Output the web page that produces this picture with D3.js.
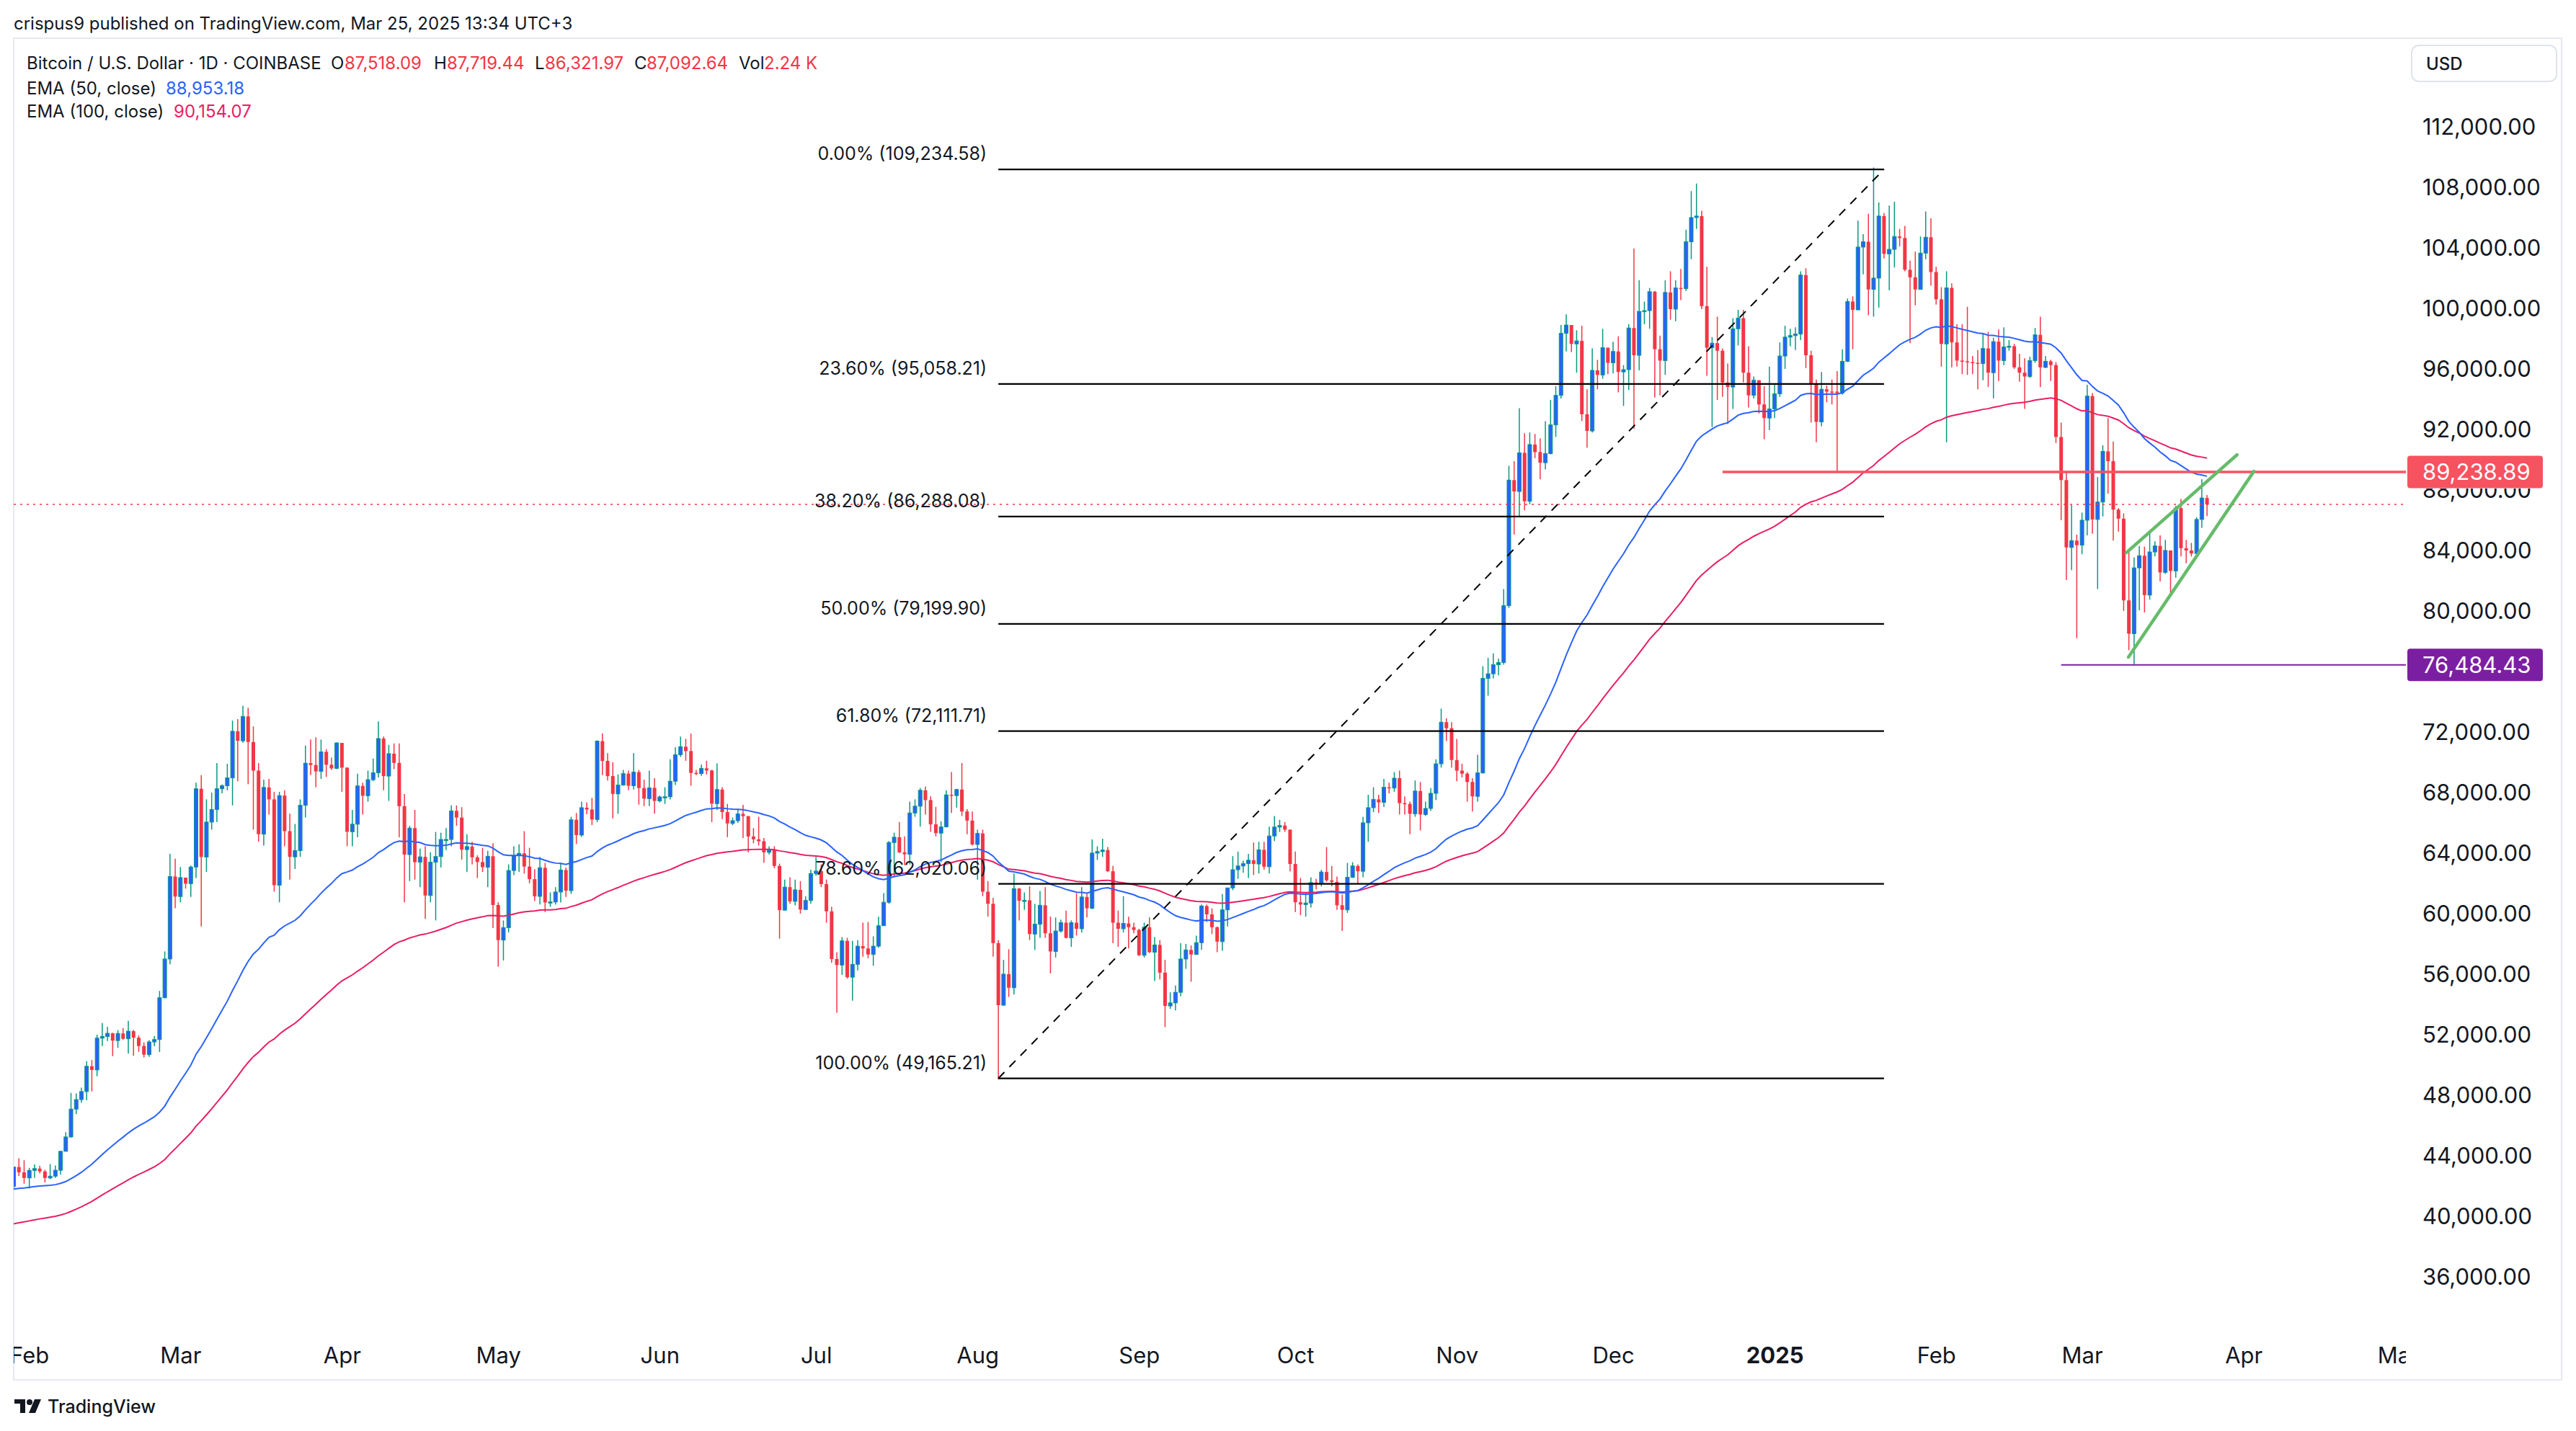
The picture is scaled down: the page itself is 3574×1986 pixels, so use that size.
<!DOCTYPE html>
<html><head><meta charset="utf-8">
<script src="https://cdn.jsdelivr.net/npm/d3@7"></script>
<style>
html,body{margin:0;padding:0;background:#fff;}
svg{display:block;}
text{font-family:Inter,"Noto Sans",Roboto,sans-serif;}
</style></head><body>
<svg id="chart" width="3574" height="1986"></svg>
<script>
// ---------------- DATA ----------------
const startDate = "2024-01-29";   // first daily candle
// [open, high, low, close] per day, BTC/USD Coinbase
const ohlc = [
// Jan 29-31 2024
[42030,43300,41800,43300],[43300,43880,42700,42950],[42950,43750,42200,42580],
// Feb 2024
[42580,43250,41880,43080],[43080,43480,42580,43200],[43200,43380,42880,43010],[43010,43120,42280,42580],
[42580,43500,42500,42700],[42700,43400,42580,43090],[43090,44370,42800,44340],[44340,45600,44330,45290],
[45290,48200,45250,47130],[47130,48170,46800,47760],[47760,48550,47550,48290],[48290,50300,47710,49960],
[49960,50370,48300,49720],[49720,52050,49300,51820],[51820,52820,51300,51930],[51930,52570,51630,52140],
[52140,52180,50630,51660],[51660,52350,51180,52130],[52130,52490,51700,51780],[51780,52970,50800,52280],
[52280,52360,50650,51850],[51850,52000,50920,51300],[51300,51540,50540,50730],[50730,51690,50580,51570],
[51570,51970,51280,51730],[51730,54940,50900,54490],[54490,57550,54450,57050],[57050,64000,56700,62500],
[62500,63680,60400,61180],
// Mar 2024
[61180,63130,60800,62430],[62430,62430,61700,62030],[62030,63230,61150,63130],[63130,68700,62400,68300],
[68300,69200,59200,63790],[63790,67600,62800,66100],[66100,68050,65600,66930],[66930,70000,66100,68300],
[68300,68600,68000,68500],[68500,69950,68200,69020],[69020,72800,67200,72100],[72100,72900,68800,71470],
[71470,73780,71350,73080],[73080,73650,68600,71390],[71390,72420,65600,69500],[69500,70000,64800,65300],
[65300,68900,64550,68390],[68390,68950,66600,67600],[67600,68100,61500,61930],[61930,68100,60800,67850],
[67850,68200,64500,65500],[65500,66650,62300,63800],[63800,65980,63000,64220],[64220,67600,63800,67210],
[67210,71150,66400,69990],[69990,71560,69220,69870],[69870,71700,68400,69450],[69450,71550,68950,70740],
[70740,70920,69080,69890],[69890,70360,69550,69650],[69650,71370,69600,71330],
// Apr 2024
[71330,71340,68100,69700],[69700,69700,64500,65460],[65460,66900,64500,65960],[65960,69300,65100,68490],
[68490,68700,66600,67840],[67840,69500,67450,68900],[68900,70300,68800,69360],[69360,72750,69050,71620],
[71620,71750,68200,69140],[69140,71200,67500,70620],[70620,71300,69600,70010],[70010,71300,65100,67150],
[67150,67950,60800,63950],[63950,65850,62200,65700],[65700,66900,62300,63450],[63450,64350,61800,63800],
[63800,64500,59700,61250],[61250,64100,60800,63450],[63450,65450,59600,63820],[63820,65400,63100,64950],
[64950,65700,64250,64950],[64950,67200,64500,66840],[66840,67200,65850,66400],[66400,67080,63620,64280],
[64280,65300,62800,64480],[64480,64800,63300,63770],[63770,63900,62400,63460],[63460,64400,62800,63120],
[63120,64200,61800,63840],[63840,64700,59100,60620],
// May 2024
[60620,60800,56550,58300],[58300,59600,56950,59120],[59120,63300,58800,62900],[62900,64500,62600,63890],
[63890,64630,62800,64030],[64030,65500,62700,63160],[63160,64400,62050,62330],[62330,62990,60880,61190],
[61190,63800,60650,63080],[63080,63400,60150,60790],[60790,61450,60500,60820],[60820,61800,60650,61480],
[61480,63400,60780,62930],[62930,63100,61150,61570],[61570,66450,61350,66250],[66250,66700,64650,65240],
[65240,67450,65120,67050],[67050,67400,66620,66930],[66930,67700,65900,66270],[66270,71500,66100,71450],
[71450,71950,69200,70140],[70140,70650,68850,69140],[69140,70050,66350,67960],[67960,69250,66650,68550],
[68550,69550,68500,69300],[69300,69500,68200,68500],[68500,70650,68250,69400],[69400,69550,67250,68350],
[68350,68900,67150,67650],[67650,69500,67150,68360],[68360,69000,66650,67500],
// Jun 2024
[67500,67850,67400,67760],[67760,68400,67300,67770],[67770,70250,67600,68800],[68800,71050,68550,70550],
[70550,71750,70400,71080],[71080,71600,70150,70790],[70790,71950,68500,69350],[69350,69550,69200,69310],
[69310,69900,69150,69650],[69650,70150,69250,69510],[69510,69560,66100,67320],[67320,69980,66900,68250],
[68250,68400,66300,66760],[66760,67300,65100,66010],[66010,66400,65900,66190],[66190,66980,66050,66640],
[66640,67240,65050,66490],[66490,66500,64100,65150],[65150,65700,64700,64960],[64960,66450,64550,64830],
[64830,65050,63400,64100],[64100,64500,63950,64250],[64250,64500,63050,63200],[63200,63350,58400,60280],
[60280,62300,60250,61800],[61800,62450,60700,60860],[60860,62300,60600,61620],[61620,62200,60050,60320],
[60320,61200,60300,60920],[60920,62950,60700,62700],
// Jul 2024
[62700,63800,62550,62860],[62860,63300,61800,62000],[62000,62300,59450,60200],[60200,60500,56800,57050],
[57050,57500,53500,56650],[56650,58500,56000,58250],[58250,58450,55750,55850],[55850,58250,54300,56700],
[56700,58300,56300,57900],[57900,59450,57200,57750],[57750,59500,57100,57350],[57350,58550,56600,57900],
[57900,59850,57800,59250],[59250,61400,59250,60800],[60800,64850,60700,64750],[64750,65400,62450,65100],
[65100,66100,64050,64100],[64100,65150,63250,63970],[63970,67450,63300,66700],[66700,67600,66450,67150],
[67150,68350,65800,68200],[68200,68450,66600,67550],[67550,67800,65450,65950],[65950,67100,65150,65370],
[65370,66150,63450,65780],[65780,68200,65750,67900],[67900,69400,66700,67850],[67850,68300,67050,68250],
[68250,70000,66500,66800],[66800,66950,65300,66200],[66200,66800,64550,64620],
// Aug 2024
[64620,65600,62300,65350],[65350,65600,61200,61500],[61500,62200,59850,60700],[60700,61100,57200,58100],
[58100,58300,49100,54000],[54000,57000,53950,56050],[56050,57700,54550,55150],[55150,62700,54700,61700],
[61700,61750,59600,60900],[60900,61450,60300,60930],[60930,61850,58300,58700],[58700,60700,57650,59350],
[59350,61550,58450,60600],[60600,61800,58450,58750],[58750,59850,56100,57550],[57550,59800,57150,58900],
[58900,59650,58800,59450],[59450,60250,58400,58450],[58450,59600,57850,59450],[59450,61400,58600,59050],
[59050,61800,58800,61150],[61150,61400,59800,60400],[60400,64950,60350,64050],[64050,64500,63600,64150],
[64150,65000,63800,64250],[64250,64450,62800,62850],[62850,63200,58100,59450],[59450,60250,57850,59050],
[59050,61200,58800,59400],[59400,59850,57750,59150],[59150,59450,58750,58970],
// Sep 2024
[58970,59050,57250,57300],[57300,59450,57150,59150],[59150,59800,57450,57500],[57500,58500,55600,57980],
[57980,58300,55700,56150],[56150,57000,52550,53950],[53950,54850,53750,54150],[54150,55300,53650,54850],
[54850,58100,54600,57050],[57050,58050,56400,57650],[57650,57950,55550,57350],[57350,58600,57350,58130],
[58130,60650,57650,60550],[60550,60650,59500,60000],[60000,60400,58700,59150],[59150,59200,57500,58200],
[58200,61350,57600,60300],[60300,61750,59200,61750],[61750,63850,61600,62950],[62950,64150,62350,63200],
[63200,63550,62750,63350],[63350,64000,62400,63580],[63580,64750,62600,63330],[63330,64800,62700,64270],
[64270,64800,62950,63150],[63150,65800,62700,65180],[65180,66500,64850,65770],[65770,66250,65450,65870],
[65870,66100,65450,65600],[65600,65600,62850,63330],
// Oct 2024
[63330,64150,60150,60800],[60800,62400,59950,60650],[60650,61450,59850,60750],[60750,62450,60450,62100],
[62100,62350,61650,62050],[62050,62950,61850,62800],[62800,64450,62150,62250],[62250,63200,61850,62150],
[62150,62500,60300,60600],[60600,61300,58900,60300],[60300,63400,60100,62450],[62450,63450,62400,63200],
[63200,63300,62050,62850],[62850,66450,62450,66050],[66050,67900,64800,67050],[67050,68400,66750,67600],
[67600,67900,66700,67400],[67400,68950,67100,68400],[68400,68700,68000,68350],[68350,69400,68100,69000],
[69000,69500,66600,67350],[67350,67800,66600,67300],[67300,67450,65300,66650],[66650,68850,66450,68150],
[68150,68750,65550,66600],[66600,67450,66500,67000],[67000,68350,66850,68000],[68000,70250,67550,69950],
[69950,73600,69700,72700],[72700,72950,71450,72300],[72300,72700,69700,70200],
// Nov 2024
[70200,71600,68800,69500],[69500,69950,69050,69300],[69300,69400,67450,68750],[68750,69000,66800,67800],
[67800,70550,67450,69350],[69350,76400,69300,75600],[75600,76950,74450,75900],[75900,77250,75600,76500],
[76500,76900,75800,76650],[76650,81500,76500,80400],[80400,89650,80250,88700],[88700,89950,85100,87950],
[87950,93450,86250,90500],[90500,91800,86700,87300],[87300,91850,87100,91050],[91050,91750,90150,90550],
[90550,91450,88750,89850],[89850,92600,89400,90450],[90450,94000,90400,92350],[92350,94900,91550,94300],
[94300,98950,94100,98400],[98400,99650,97200,98950],[98950,98950,97150,97700],[97700,98600,95800,97900],
[97900,98900,92600,93050],[93050,94700,90850,91950],[91950,97400,91850,95950],[95950,96650,94700,95650],
[95650,98700,95400,97450],[97450,97450,95700,96450],
// Dec 2024
[96450,97850,95750,97200],[97200,98200,94500,95850],[95850,96300,93600,96000],[96000,99000,94650,98750],
[98750,104000,92100,96950],[96950,101900,95950,99850],[99850,100500,99000,99900],[99900,101400,98700,101150],
[101150,101200,94150,97350],[97350,98250,94300,96600],[96600,101900,95650,101100],[101100,102500,99300,100000],
[100000,101900,99200,101400],[101400,102650,100600,101350],[101350,105250,101200,104450],[104450,107800,103300,106050],
[106050,108300,105300,106150],[106150,106500,100000,100200],[100200,102800,95600,97450],[97450,98150,92200,97750],
[97750,99500,94000,97250],[97250,97400,94200,95150],[95150,96400,92400,94850],[94850,99400,93400,98700],
[98700,99950,97600,99400],[99400,99950,95150,95800],[95800,97550,93500,94300],[94300,95550,94100,95300],
[95300,95300,93100,93700],[93700,94900,91400,92800],[92800,96200,92000,93400],
// Jan 2025
[93400,95000,92800,94400],[94400,97800,94200,96900],[96900,98900,96050,98150],[98150,98700,97550,98250],
[98250,98800,97300,98350],[98350,102500,97950,102250],[102250,102700,96100,96950],[96950,97250,92500,95050],
[95050,95350,91200,92550],[92550,95850,92250,94700],[94700,94950,93850,94550],[94550,95350,93700,94500],
[94550,95900,89260,94450],[94450,97350,94350,96550],[96550,100700,96500,100500],[100500,100850,97350,99950],
[99950,105850,99950,104100],[104100,104950,102300,104450],[104450,106300,99600,101300],[101300,109360,99500,102050],
[102050,107050,100100,106150],[106150,106350,103350,103650],[103650,106850,101250,103950],[103950,107100,102750,104800],
[104800,105300,104150,104700],[104700,105500,102500,102600],[102600,103200,97750,102100],[102100,103800,100250,101300],
[101300,104800,101300,103700],[103700,106450,103300,104750],[104750,106000,101550,102450],
// Feb 2025
[102450,102800,100300,100650],[100650,101450,96200,97700],[97700,102500,91200,101400],[101400,101700,96150,97800],
[97800,99000,96200,96600],[96600,99000,95700,96550],[96550,100150,95650,96500],[96500,96900,95700,96450],
[96450,97300,94700,96400],[96400,98350,95300,97400],[97400,98500,94850,95800],[95800,98100,94100,97850],
[97850,98650,95250,96600],[96600,98800,96300,97500],[97500,97950,97250,97550],[97550,97700,96050,96150],
[96150,97050,95200,95800],[95800,96750,93400,95550],[95550,96850,95450,96600],[96600,98750,96450,98300],
[98300,99500,94850,96150],[96150,96900,96100,96550],[96550,96650,95250,96300],[96300,96500,91150,91550],
[91550,92500,86050,88700],[88700,89300,82100,84250],[84250,87050,82750,84700],[84700,85100,78250,84400],
// Mar 2025
[84400,86550,83800,86050],[86050,95000,85050,94250],[94250,94450,85150,86100],[86100,88900,81500,87250],
[87250,91000,86300,90600],[90600,92800,87800,89950],[89950,91250,84700,86750],[86750,86850,85300,86150],
[86150,86500,80050,80750],[80750,84100,77450,78550],[78550,83600,76484.43,82900],[82900,84350,80100,83700],
[83700,84300,79950,81100],[81100,85300,80800,83950],[83950,84650,83650,84350],[84350,85050,82000,82600],
[82600,84750,82500,84050],[84050,84050,81150,82700],[82700,87000,82250,86850],[86850,87450,83650,84200],
[84200,84750,83200,84050],[84050,84550,83650,83850],[83850,86250,83800,86100],[86100,88750,85550,87518.09],
[87518.09,87719.44,86321.97,87092.64]
];
// EMA starting values at the first candle
const ema50Start = 41850;
const ema100Start = 39550;

const priceTicks = [36000,40000,44000,48000,52000,56000,60000,64000,68000,72000,76000,80000,84000,88000,92000,96000,100000,104000,108000,112000];
const monthTicks = ["2024-02-01","2024-03-01","2024-04-01","2024-05-01","2024-06-01","2024-07-01","2024-08-01","2024-09-01","2024-10-01","2024-11-01","2024-12-01","2025-01-01","2025-02-01","2025-03-01","2025-04-01","2025-05-01"];
const monthLabels = ["Feb","Mar","Apr","May","Jun","Jul","Aug","Sep","Oct","Nov","Dec","2025","Feb","Mar","Apr","May"];

const fibLabels = ["0.00%","23.60%","38.20%","50.00%","61.80%","78.60%","100.00%"];
const fibPrices = [109234.58,95058.21,86288.08,79199.90,72111.71,62020.06,49165.21];
const fibStart = "2024-08-05", fibEnd = "2025-01-22";

const trendLine = [["2024-08-05",49165.21],["2025-01-22",109234.58]];
const resistance = {price:89238.89, from:"2024-12-22"};
const support = {price:76484.43, from:"2025-02-25"};
const wedgeUpper = [["2025-03-09T12:00:00Z",83900],["2025-03-30T18:00:00Z",90370]];
const wedgeLower = [["2025-03-09T22:00:00Z",77000],["2025-04-03T00:00:00Z",89280]];
const lastPrice = 87092.64;

const legendOHLC = ["87,518.09","87,719.44","86,321.97","87,092.64"];
const legendVol = "2.24 K";
const legendEma50 = "88,953.18", legendEma100 = "90,154.07";

// ---------------- LAYOUT ----------------
const C = {up:"#089981", upBody:"#2962FF", down:"#F23645", ema50:"#2962FF", ema100:"#E91E63",
  text:"#131722", res:"#F7525F", sup:"#7B1FA2", wedge:"#66BB6A", frame:"#E6E9EF"};
const plot = {left:19, right:3338, top:53, bottom:1845};
const svg = d3.select("#chart");
const pu = d3.utcParse("%Y-%m-%d");
const pd = s => s.length > 10 ? new Date(s) : pu(s);

const x = d3.scaleUtc().domain([pu("2024-03-01"), pu("2025-03-01")]).range([250.3, 2888.6]);
const y = d3.scaleLinear().domain([36000, 112000]).range([1773, 177]);

const t0 = pu(startDate);
const candles = ohlc.map((r,i)=>({date:d3.utcDay.offset(t0,i), o:r[0], h:r[1], l:r[2], c:r[3]}));
// EMA of closes
function ema(period, start){
  const k = 2/(period+1); let e = start;
  return candles.map((d,i)=>{ if(i>0) e = d.c*k + e*(1-k); return {date:d.date, v:e}; });
}
const e50 = ema(50, ema50Start), e100 = ema(100, ema100Start);

const defs = svg.append("defs");
defs.append("clipPath").attr("id","plotClip").append("rect")
  .attr("x",plot.left).attr("y",plot.top).attr("width",plot.right-plot.left).attr("height",plot.bottom-plot.top);
defs.append("clipPath").attr("id","timeClip").append("rect")
  .attr("x",plot.left).attr("y",plot.bottom).attr("width",plot.right-plot.left).attr("height",80);

// frame
svg.append("rect").attr("x",plot.left).attr("y",plot.top).attr("width",3554-plot.left).attr("height",1915-plot.top)
  .attr("fill","none").attr("stroke",C.frame).attr("stroke-width",2);

const P = svg.append("g").attr("clip-path","url(#plotClip)");

// candles
const cg = P.append("g");
cg.selectAll("line").data(candles).join("line")
  .attr("x1",d=>x(d.date)).attr("x2",d=>x(d.date))
  .attr("y1",d=>y(d.h)).attr("y2",d=>y(d.l))
  .attr("stroke",d=>d.c>=d.o?C.up:C.down).attr("stroke-width",1.5);
cg.selectAll("rect").data(candles).join("rect")
  .attr("x",d=>x(d.date)-2.5).attr("width",5)
  .attr("y",d=>y(Math.max(d.o,d.c)))
  .attr("height",d=>Math.max(1.5, Math.abs(y(d.o)-y(d.c))))
  .attr("fill",d=>d.c>=d.o?C.upBody:C.down)
  .attr("stroke",d=>d.c>=d.o?C.up:"none").attr("stroke-width",1);

// EMAs
const line = d3.line().x(d=>x(d.date)).y(d=>y(d.v));
P.append("path").datum(e100).attr("d",line).attr("fill","none").attr("stroke",C.ema100).attr("stroke-width",2);
P.append("path").datum(e50).attr("d",line).attr("fill","none").attr("stroke",C.ema50).attr("stroke-width",2);

// current price dotted line
P.append("line").attr("x1",plot.left).attr("x2",plot.right).attr("y1",y(lastPrice)).attr("y2",y(lastPrice))
  .attr("stroke",C.down).attr("stroke-width",1.5).attr("stroke-dasharray","3,6");

// fib
const fx0 = x(pd(fibStart)), fx1 = x(pd(fibEnd));
const fg = P.append("g");
fg.selectAll("line").data(fibPrices).join("line")
  .attr("x1",fx0).attr("x2",fx1).attr("y1",d=>y(d)).attr("y2",d=>y(d))
  .attr("stroke","#000").attr("stroke-width",2.2);
fg.selectAll("text").data(fibPrices).join("text")
  .attr("x",fx0-16).attr("y",d=>y(d)-22).attr("text-anchor","end").attr("dominant-baseline","central")
  .attr("font-size",25).attr("fill",C.text)
  .text((d,i)=>`${fibLabels[i]} (${d3.format(",.2f")(d)})`);

// dashed trend line
P.append("line")
  .attr("x1",x(pd(trendLine[0][0]))).attr("y1",y(trendLine[0][1]))
  .attr("x2",x(pd(trendLine[1][0]))).attr("y2",y(trendLine[1][1]))
  .attr("stroke","#000").attr("stroke-width",2).attr("stroke-dasharray","12,10");

// resistance / support
P.append("line").attr("x1",x(pd(resistance.from))).attr("x2",plot.right)
  .attr("y1",y(resistance.price)).attr("y2",y(resistance.price)).attr("stroke",C.res).attr("stroke-width",3.5);
P.append("line").attr("x1",x(pd(support.from))).attr("x2",plot.right)
  .attr("y1",y(support.price)).attr("y2",y(support.price)).attr("stroke",C.sup).attr("stroke-width",2);

// wedge
[wedgeUpper, wedgeLower].forEach(w=>{
  P.append("line").attr("x1",x(pd(w[0][0]))).attr("y1",y(w[0][1])).attr("x2",x(pd(w[1][0]))).attr("y2",y(w[1][1]))
    .attr("stroke",C.wedge).attr("stroke-width",4.5).attr("stroke-linecap","round");
});

// price axis: labels fully covered by a line's axis label box are not shown (as in the reference)
const boxPrices = [resistance.price, support.price];
const boxH = 45;
const visibleTicks = priceTicks.filter(t => boxPrices.every(b => Math.abs(y(t)-y(b)) > boxH/2));
const ya = svg.append("g").attr("transform","translate(3361,0)")
  .call(d3.axisRight(y).tickValues(visibleTicks).tickSize(0).tickPadding(0).tickFormat(d3.format(",.2f")));
ya.select(".domain").remove();
ya.selectAll("text").attr("x",0).attr("dy","0.3em").attr("font-size",31).attr("fill",C.text)
  .attr("font-family","Inter,Roboto,sans-serif");
// a label partly covered by a box: keep only its uncovered part
ya.selectAll(".tick").each(function(t){
  boxPrices.forEach((b,bi)=>{
    const dy = y(t)-y(b);
    if (Math.abs(dy) < boxH/2 + 24) {
      const id = "tickclip"+t;
      const r = defs.append("clipPath").attr("id",id).append("rect").attr("x",-20).attr("width",260);
      if (dy > 0) r.attr("y", y(b)+boxH/2 - y(t)).attr("height",60);
      else r.attr("y",-60).attr("height", 60 + (y(b)-boxH/2 - y(t)));
      d3.select(this).select("text").attr("clip-path",`url(#${id})`);
    }
  });
});

// axis labels for lines
function axisLabel(price, color){
  const yy = y(price);
  svg.append("rect").attr("x",3340).attr("y",yy-boxH/2).attr("width",188).attr("height",boxH).attr("rx",4).attr("fill",color);
  svg.append("text").attr("x",3361).attr("y",yy).attr("dy","0.36em").attr("font-size",31).attr("fill","#fff")
    .text(d3.format(",.2f")(price));
}
axisLabel(resistance.price, C.res);
axisLabel(support.price, C.sup);

// USD box
svg.append("rect").attr("x",3346).attr("y",63).attr("width",201).attr("height",50).attr("rx",10)
  .attr("fill","#fff").attr("stroke","#E0E3EB").attr("stroke-width",2);
svg.append("text").attr("x",3366).attr("y",88).attr("dy","0.36em").attr("font-size",24).attr("font-weight",500)
  .attr("fill",C.text).text("USD");

// time axis
const xa = svg.append("g").attr("clip-path","url(#timeClip)").append("g").attr("transform","translate(0,1881)")
  .call(d3.axisBottom(x).tickValues(monthTicks.map(pu)).tickSize(0).tickPadding(0).tickFormat((d,i)=>monthLabels[i]));
xa.select(".domain").remove();
xa.selectAll("text").attr("y",0).attr("dy","0.36em").attr("font-size",31).attr("fill",C.text)
  .attr("font-family","Inter,Roboto,sans-serif")
  .attr("font-weight",(d,i)=>monthLabels[i]==="2025"?700:400);

// header
svg.append("text").attr("x",19).attr("y",32).attr("dy","0.36em").attr("font-size",24).attr("fill",C.text)
  .text("crispus9 published on TradingView.com, Mar 25, 2025 13:34 UTC+3");

// legend
const L = svg.append("g").attr("font-size",24);
function lt(xp, yp, s, col){ L.append("text").attr("x",xp).attr("y",yp).attr("dy","0.36em").attr("fill",col||C.text).text(s); }
lt(37,87,"Bitcoin / U.S. Dollar · 1D · COINBASE");
lt(459,87,"O"); lt(478,87,legendOHLC[0],C.down);
lt(602,87,"H"); lt(620,87,legendOHLC[1],C.down);
lt(742,87,"L"); lt(756,87,legendOHLC[2],C.down);
lt(880,87,"C"); lt(897,87,legendOHLC[3],C.down);
lt(1025,87,"Vol"); lt(1060,87,legendVol,C.down);
lt(37,122,"EMA (50, close)"); lt(230,122,legendEma50,C.ema50);
lt(37,154,"EMA (100, close)"); lt(241,154,legendEma100,C.ema100);

// TradingView logo
const lg = svg.append("g").attr("fill","#131722");
lg.append("rect").attr("x",20).attr("y",1942).attr("width",15).attr("height",6);
lg.append("rect").attr("x",28).attr("y",1942).attr("width",7).attr("height",19);
lg.append("circle").attr("cx",41).attr("cy",1946).attr("r",4);
lg.append("polygon").attr("points","48,1942 57,1942 49,1961 40,1961");
svg.append("text").attr("x",66).attr("y",1952).attr("dy","0.36em").attr("font-size",25).attr("font-weight",500)
  .attr("fill",C.text).text("TradingView");
</script></body></html>
